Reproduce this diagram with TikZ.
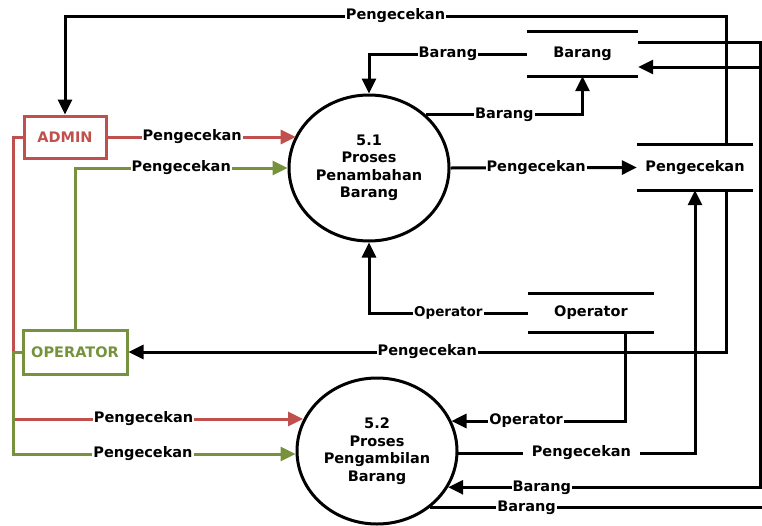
\documentclass[tikz,border=0pt]{standalone}
\usepackage{fontspec}
\setmainfont{DejaVu Sans}
\usetikzlibrary{arrows.meta,shapes.geometric,calc}
\definecolor{admred}{RGB}{192,80,77}
\definecolor{opgreen}{RGB}{118,146,60}

\begin{document}
\begin{tikzpicture}[x=1pt,y=-1pt,
  every node/.style={font=\fontsize{14.5}{17.5}\selectfont\bfseries},
  wire/.style={line width=3pt},
  flow/.style={wire,-{Triangle[length=15pt,width=14pt]}},
  lbl/.style={fill=white,text=black,inner xsep=1pt,inner ysep=1pt},
  proc/.style={ellipse,draw,line width=3pt,minimum width=160pt,minimum height=146pt,inner sep=0pt,align=center},
  ent/.style={draw,line width=3pt,inner sep=0pt},
  store/.style={inner sep=0pt}]

\useasboundingbox (0,0) rectangle (762,525);
\clip (0,0) rectangle (762,525);

% external entities
\node[ent,admred,text=admred,minimum width=82pt,minimum height=42pt] (admin) at (65,137) {ADMIN};
\node[ent,opgreen,text=opgreen,minimum width=104pt,minimum height=44pt] (oper) at (75,352) {OPERATOR};

% processes
\node[proc] (p51) at (369,168) {5.1\\Proses\\Penambahan\\Barang};
\node[proc] (p52) at (377,451) {5.2\\Proses\\Pengambilan\\Barang};

% data stores
\node[store,minimum width=111pt,minimum height=44pt] (bar) at (582.5,54) {Barang};
\node[store,minimum width=116pt,minimum height=45pt] (peng) at (695,167.5) {Pengecekan};
\node[store,minimum width=126pt,minimum height=38pt] (opst) at (591,313) {Operator};
\foreach \s in {bar,peng,opst}
  \draw[wire] (\s.north west) -- (\s.north east) (\s.south west) -- (\s.south east);

% bend points
\coordinate (t1) at (726,16);
\coordinate (t2) at (65,16);
\coordinate (b1) at (726,352);
\coordinate (ra) at (760,42);
\coordinate (rb) at (775,507);
\coordinate (bin) at ([yshift=-13pt]bar.east);
\coordinate (bout) at ([yshift=12pt]bar.east);
\coordinate (q1) at (695,453);
\coordinate (o1) at (625,421);
\coordinate (o0) at ([xshift=34pt]opst.south);
\coordinate (lr) at (13,419);
\coordinate (g1) at (75,168);
\coordinate (g2) at (13,454);

% admin flows
\draw[flow,admred] (admin.east) -- node[lbl,pos=0.45]{Pengecekan} (admin.east -| p51.156);
\draw[flow,admred] (admin.west) -- (admin.west -| lr) -- (lr) -- node[lbl,pos=0.45]{Pengecekan} (lr -| p52.157);

% operator flows
\draw[flow,opgreen] (oper.north) -- (g1) -- node[lbl,pos=0.5]{Pengecekan} (g1 -| p51.west);
\draw[flow,opgreen] (oper.west) -- (oper.west -| g2) -- (g2) -- node[lbl,pos=0.46]{Pengecekan} (g2 -| p52.182);

% store Pengecekan to entities
\draw[flow] (t1 |- peng.north) -- (t1) -- node[lbl]{Pengecekan} (t2) -- (admin.north);
\draw[flow] (b1 |- peng.south) -- (b1) -- node[lbl]{Pengecekan} (oper.east);

% process 5.1
\draw[flow] (bar.west) -| node[lbl,pos=0.25]{Barang} (p51.north);
\draw[flow] (p51.43) -| node[lbl,pos=0.25]{Barang} (bar.south);
\draw[flow] (p51.east) -- node[lbl,pos=0.46]{Pengecekan} (peng.west);
\draw[flow] (opst.west) -| node[lbl,pos=0.25,font=\fontsize{13.5}{16}\selectfont\bfseries]{Operator} (p51.south);

% process 5.2
\draw[flow] (o0) -- (o1) -- node[lbl,pos=0.57]{Operator} (o1 -| p52.22);
\draw[flow] (q1 -| p52.358) -- node[lbl,inner xsep=9pt,pos=0.52]{Pengecekan} (q1) -- (peng.south);
\draw[flow] (bout) -- (ra) -- (ra |- p52.333) -- node[lbl,pos=0.70]{Barang} (p52.333);
\draw[flow] (p52.313) -- node[lbl,pos=0.28]{Barang} (p52.313 -| rb) -- (rb |- bin) -- (bin);

\end{tikzpicture}
\end{document}
